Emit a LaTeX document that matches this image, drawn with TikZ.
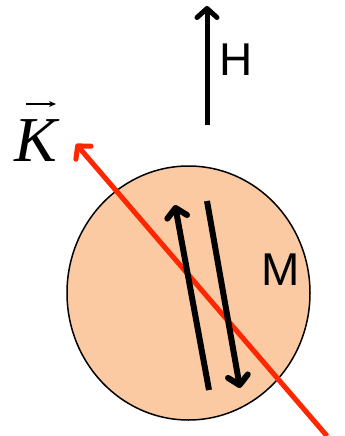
\documentclass[tikz,border=0pt]{standalone}
\usepackage{fontspec}
\setmainfont{Liberation Sans}
\newfontfamily\kfont{Liberation Serif}
\usetikzlibrary{arrows.meta,shapes.geometric}
\definecolor{peach}{RGB}{251,202,163}
\definecolor{kred}{RGB}{255,38,0}
\tikzset{
  barb/.style={-{Straight Barb[length=9pt,width=20pt,line cap=round,line join=round]}},
  spinarrow/.style={barb,line width=6pt,black},
  shadowline/.style={line width=6pt,black!25,opacity=0.4},
  biglabel/.style={font=\fontsize{46}{50}\selectfont,inner sep=0pt},
}
\begin{document}
\begin{tikzpicture}[x=1pt,y=-1pt]
\useasboundingbox (0,0) rectangle (345,436);
% ellipse
\node[ellipse,draw=black,line width=1.5pt,fill=peach,minimum width=243pt,minimum height=254pt,inner sep=0pt] (body) at (188.5,293) {};
\node[biglabel] (M) at (281,270) {M};
% H field
\coordinate (h0) at (207,125);
\coordinate (h1) at (207,6);
\draw[barb,line width=5pt] (h0) -- (h1);
\node[biglabel] (H) at (236,60) {H};
% K vector
\coordinate (k0) at (327,436);
\coordinate (k1) at (76,144);
\draw[shadowline,line width=5pt] ([shift={(3,3)}]k0) -- ([shift={(3,3)}]k1);
\draw[kred,line width=5pt,barb] (k0) -- (k1);
\node[font=\kfont\itshape\fontsize{64}{70}\selectfont,inner sep=0pt] (K) at (36,141) {K};
\coordinate (v0) at (26,104);
\coordinate (v1) at (56,104);
\draw[line width=1.5pt,-{Stealth[length=7pt,width=6pt]}] (v0) -- (v1);
% magnetization arrows
\coordinate (a0) at (209,390);
\coordinate (a1) at (175,205);
\coordinate (b0) at (207,201);
\coordinate (b1) at (240,388);
\draw[spinarrow] (a0) -- (a1);
\draw[spinarrow] (b0) -- (b1);
\end{tikzpicture}
\end{document}
